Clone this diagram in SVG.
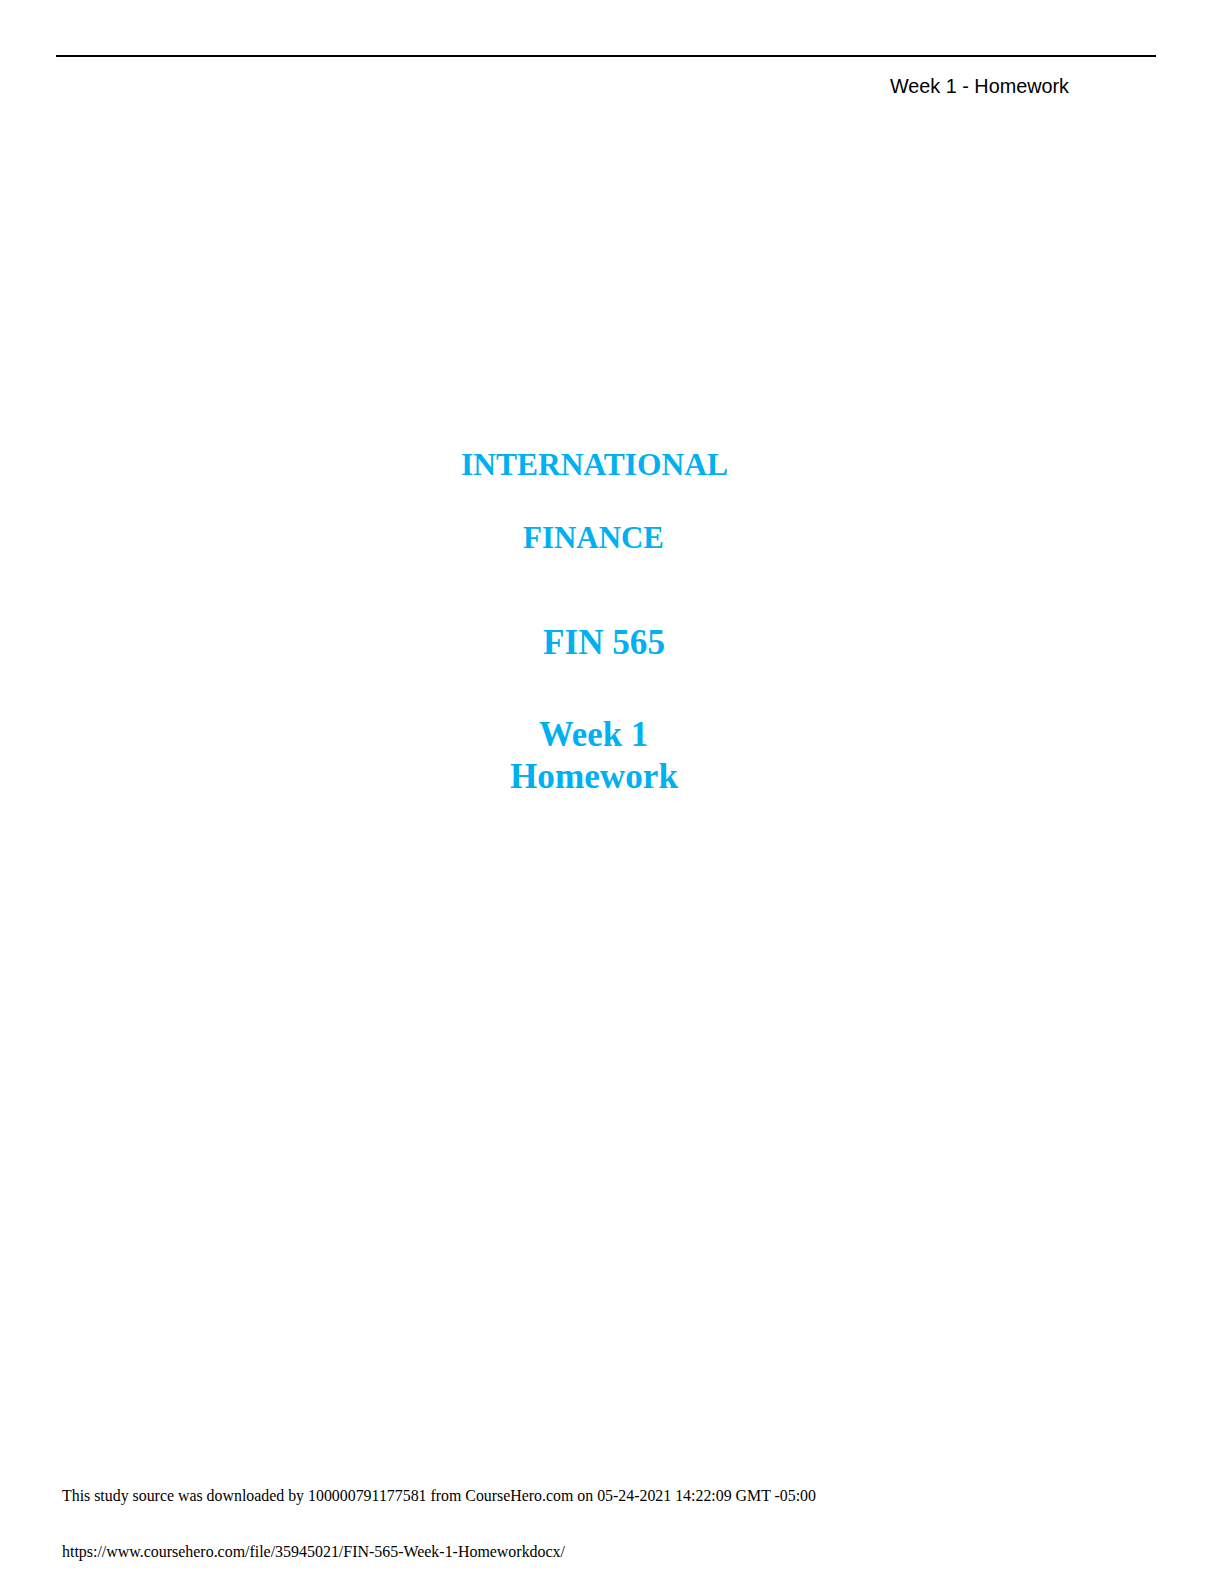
<svg xmlns="http://www.w3.org/2000/svg" width="1224" height="1584" viewBox="0 0 1224 1584">
<style>
.title{font-family:"Liberation Serif","Times New Roman",serif;font-weight:bold;fill:#00B0F0;}
.foot{font-family:"Liberation Serif","Times New Roman",serif;font-size:16px;fill:#000;}
.head{font-family:"Liberation Sans",Arial,sans-serif;font-size:20px;fill:#000;}
</style>
<rect x="0" y="0" width="1224" height="1584" fill="#fff"/>
<g id="header">
<line x1="56" y1="56" x2="1156" y2="56" stroke="#000" stroke-width="2"/>
<text class="head" x="890" y="93" textLength="179" lengthAdjust="spacingAndGlyphs">Week 1 - Homework</text>
</g>
<g id="title">
<text class="title" x="461" y="475" font-size="32" textLength="267" lengthAdjust="spacingAndGlyphs">INTERNATIONAL</text>
<text class="title" x="523" y="548" font-size="32" textLength="141" lengthAdjust="spacingAndGlyphs">FINANCE</text>
<text class="title" x="543" y="654" font-size="35" textLength="122" lengthAdjust="spacingAndGlyphs">FIN 565</text>
<text class="title" x="539" y="746" font-size="35" textLength="109" lengthAdjust="spacingAndGlyphs">Week 1</text>
<text class="title" x="510" y="788" font-size="35" textLength="168" lengthAdjust="spacingAndGlyphs">Homework</text>
</g>
<g id="footer">
<text class="foot" x="62" y="1501" textLength="754" lengthAdjust="spacingAndGlyphs">This study source was downloaded by 100000791177581 from CourseHero.com on 05-24-2021 14:22:09 GMT -05:00</text>
<text class="foot" x="62" y="1557" textLength="503" lengthAdjust="spacingAndGlyphs">https://www.coursehero.com/file/35945021/FIN-565-Week-1-Homeworkdocx/</text>
</g>
</svg>
